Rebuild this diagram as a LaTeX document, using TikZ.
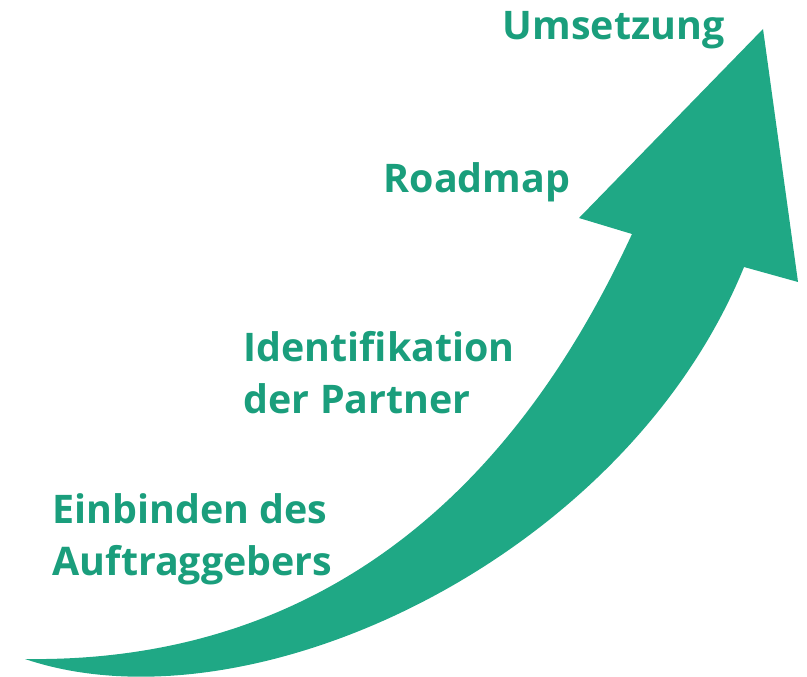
\documentclass[tikz,border=0pt]{standalone}
\usepackage{fontspec}
\setmainfont{Open Sans}
\usetikzlibrary{positioning}
\definecolor{arrowgreen}{RGB}{31,168,133}
\definecolor{textgreen}{RGB}{26,158,124}

\begin{document}
\begin{tikzpicture}[x=0.01cm, y=-0.01cm]
    % Setup the style for the labels
        \tikzset{label style/.style={anchor=north west,
                                     inner sep=0pt,
                                     align=left,
                                     text=textgreen,
                                     font=\fontsize{11.2}{14.8}\selectfont\bfseries}}
        \useasboundingbox (0,0) rectangle (807,676);

        % Draw the arrow
        \fill[arrowgreen]
            (25,659) .. controls (390,664) and (555,400) .. (632,234)
            -- (579,218) -- (763,29) -- (798,282) -- (744,267)
            .. controls (625,559) and (250,735) .. (25,659)
            -- cycle;

        % Draw the labels
        \node[label style] at (502,11)  (umsetzung) {Umsetzung};
        \node[label style] at (383,162) (roadmap)   {Roadmap};
        \node[label style] at (243,331) (partner)   {Identifikation\\der Partner};
        \node[label style] at (52,493)  (auftrag)   {Einbinden des\\Auftraggebers};
\end{tikzpicture}
\end{document}
